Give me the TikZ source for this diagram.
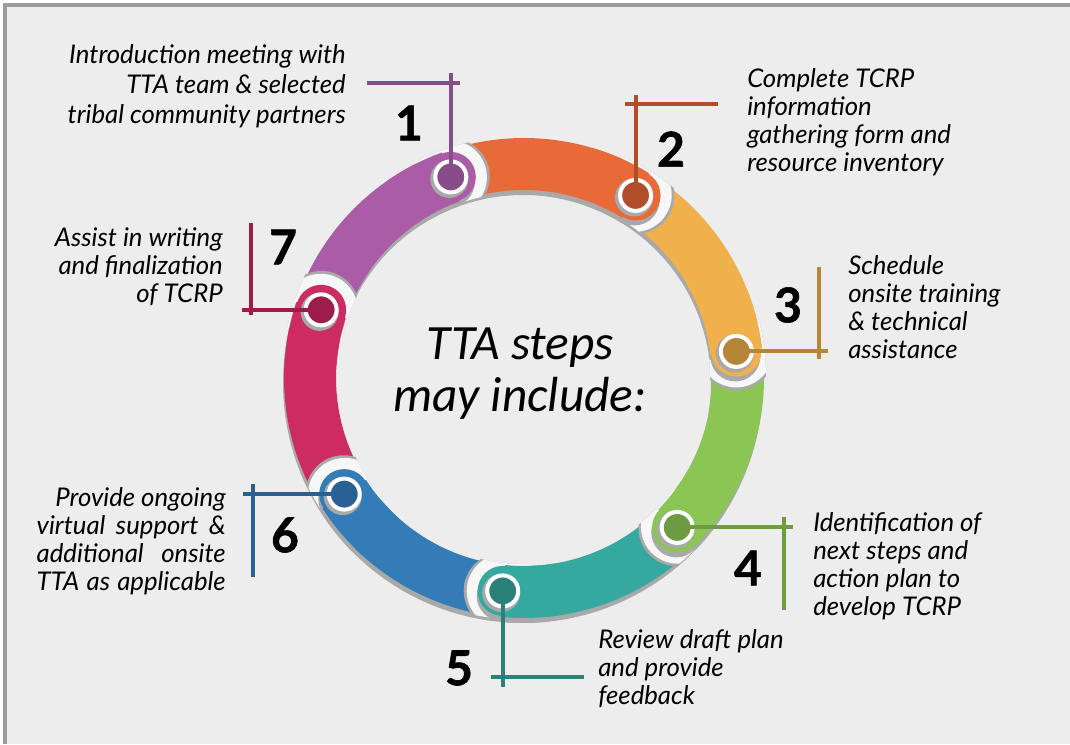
\documentclass[tikz,border=0pt]{standalone}
\usepackage{fontspec}
\setmainfont{Lato}
\newfontfamily\centrefont{Carlito}
\newfontfamily\numfont[FakeBold=1.2]{Lato}
\usepackage{tikz}
\usetikzlibrary{positioning}
\tikzset{>=stealth}

\definecolor{bggray}{HTML}{EDEDED}
\definecolor{framegray}{HTML}{9C9C9C}
\definecolor{shadowgray}{HTML}{A9A9A9}
\definecolor{gapwhite}{HTML}{F7F7F7}
\definecolor{bandA}{HTML}{AB5CA6}  \definecolor{dotA}{HTML}{874C89}
\definecolor{bandB}{HTML}{E96A39}  \definecolor{dotB}{HTML}{B14E2A}
\definecolor{bandC}{HTML}{F0B04C}  \definecolor{dotC}{HTML}{B5853A}
\definecolor{bandD}{HTML}{8BC553}  \definecolor{dotD}{HTML}{6E9A42}
\definecolor{bandE}{HTML}{35A99F}  \definecolor{dotE}{HTML}{2B8077}
\definecolor{bandF}{HTML}{337CB8}  \definecolor{dotF}{HTML}{2A6194}
\definecolor{bandG}{HTML}{CC2C62}  \definecolor{dotG}{HTML}{9C1C4A}

\tikzset{
  band/.style={line width=39pt},
  dotnode/.style={circle, fill=#1, draw=white, line width=3pt, minimum size=23.25pt, inner sep=0pt},
  lead/.style={draw=#1, line width=3pt},
  steptext/.style={font=\itshape\fontsize{19.3}{21}\selectfont, inner sep=0pt},
  stepnum/.style={font=\numfont\bfseries\fontsize{36}{36}\selectfont, inner sep=0pt}
}

\begin{document}
\begin{tikzpicture}[x=0.75pt, y=0.75pt]
    \useasboundingbox (0,0) rectangle (1070,744);
    \fill[white] (0,0) rectangle (1070,744);
    \fill[bggray] (5,0) rectangle (1070,739);
    \draw[framegray, line width=3pt] (5,0) -- (5,739) -- (1070,739);

    % the ring
    \begin{scope}[shift={(524,366)}]
    \foreach \k/\c in {1/bandA,2/bandB,3/bandC,4/bandD,5/bandE,6/bandF,7/bandG}{
        \pgfmathsetmacro\a{110-51.4286*(\k-1)}
        \draw[band, shadowgray, shift={(-1,-5)}] (\a:214) arc[start angle=\a, delta angle=51.4286, radius=214];
    }
    \foreach \k/\c in {1/bandA,2/bandB,3/bandC,4/bandD,5/bandE,6/bandF,7/bandG}{
        \pgfmathsetmacro\a{110-51.4286*(\k-1)}
        \draw[band, \c] (\a:214) arc[start angle=\a, delta angle=51.4286, radius=214];
    }
    \begin{scope}[even odd rule]
        \clip (0,0) circle (242) (0,0) circle (186);
        \foreach \k in {1,...,7}{
            \pgfmathsetmacro\a{110-51.4286*(\k-1)}
            \fill[shadowgray] (\a:214) ++(\a-90:1) circle (38);
            \fill[gapwhite] (\a:214) ++(\a+90:1) circle (37);
        }
    \end{scope}
    \foreach \k/\c/\d in {1/bandA/dotA,2/bandB/dotB,3/bandC/dotC,4/bandD/dotD,5/bandE/dotE,6/bandF/dotF,7/bandG/dotG}{
        \pgfmathsetmacro\a{110-51.4286*(\k-1)}
        \draw[band, shadowgray, shift={(-1,-5)}] (\a:214) arc[start angle=\a, delta angle=12, radius=214];
        \fill[shadowgray, shift={(-1,-5)}] (\a:214) circle (25);
        \draw[band, \c] (\a:214) arc[start angle=\a, delta angle=15, radius=214];
        \fill[\c] (\a:214) circle (25);
        \fill[shadowgray] (\a:214) ++(-1.5,-2) circle (19);
        \node[dotnode=\d] (D\k) at (\a:214) {};
    }
    \end{scope}

    \node[font=\centrefont\itshape\fontsize{37}{39}\selectfont, align=center, inner sep=0pt] (Ctr) at (520,370) {TTA steps\\may include:};

    % leads
    \coordinate (E1) at (452,671);  \coordinate (F1a) at (367,661);  \coordinate (F1b) at (460,661);
    \coordinate (E2) at (636,649);  \coordinate (F2a) at (625,640);  \coordinate (F2b) at (718,640);
    \coordinate (E3) at (828,393);  \coordinate (F3a) at (819,477);  \coordinate (F3b) at (819,385);
    \coordinate (E4) at (793,217);  \coordinate (F4a) at (784,227);  \coordinate (F4b) at (784,134);
    \coordinate (E5) at (503,57);   \coordinate (F5a) at (491,67);   \coordinate (F5b) at (584,67);
    \coordinate (E6) at (243,250);  \coordinate (F6a) at (253,260);  \coordinate (F6b) at (253,167);
    \coordinate (E7) at (242,434);  \coordinate (F7a) at (251,521);  \coordinate (F7b) at (251,429);

    \draw[lead=dotA] (D1.center) -- (D1.center |- E1);
    \draw[lead=dotA] (F1a) -- (F1b);
    \draw[lead=dotB] (D2.center) -- (D2.center |- E2);
    \draw[lead=dotB] (F2a) -- (F2b);
    \draw[lead=dotC] (D3.center) -- (D3.center -| E3);
    \draw[lead=dotC] (F3a) -- (F3b);
    \draw[lead=dotD] (D4.center) -- (D4.center -| E4);
    \draw[lead=dotD] (F4a) -- (F4b);
    \draw[lead=dotE] (D5.center) -- (D5.center |- E5);
    \draw[lead=dotE] (F5a) -- (F5b);
    \draw[lead=dotF] (D6.center) -- (D6.center -| E6);
    \draw[lead=dotF] (F6a) -- (F6b);
    \draw[lead=dotG] (D7.center) -- (D7.center -| E7);
    \draw[lead=dotG] (F7a) -- (F7b);

    % numbers
    \node[stepnum] (N1) at (409,621) {1};
    \node[stepnum] (N2) at (671,595) {2};
    \node[stepnum] (N3) at (788,439) {3};
    \node[stepnum] (N4) at (748,176) {4};
    \node[stepnum] (N5) at (459,76)  {5};
    \node[stepnum] (N6) at (285,209) {6};
    \node[stepnum] (N7) at (283,497) {7};

    % texts
    \node[steptext, anchor=north east, align=right, font=\itshape\fontsize{19.3}{22.5}\selectfont] (T1) at (346,700)
        {Introduction meeting with\\TTA team \& selected\\tribal community partners};
    \node[steptext, anchor=north west, align=left] (T2) at (747,676)
        {Complete TCRP\\information\\gathering form and\\resource inventory};
    \node[steptext, anchor=north west, align=left] (T3) at (848,489)
        {Schedule\\onsite training\\\& technical\\assistance};
    \node[steptext, anchor=north west, align=left] (T4) at (813,232)
        {Identification of\\next steps and\\action plan to\\develop TCRP};
    \node[steptext, anchor=north west, align=left] (T5) at (598,115)
        {Review draft plan\\and provide\\feedback};
    \node[steptext, anchor=north east, align=right] (T6) at (226,257)
        {Provide ongoing\\\makebox[141.75pt][s]{virtual support \&}\\\makebox[141.75pt][s]{additional\ \ onsite}\\\makebox[141.75pt][s]{TTA as applicable}};
    \node[steptext, anchor=north east, align=right] (T7) at (223,517)
        {Assist in writing\\and finalization\\of TCRP};
\end{tikzpicture}
\end{document}
